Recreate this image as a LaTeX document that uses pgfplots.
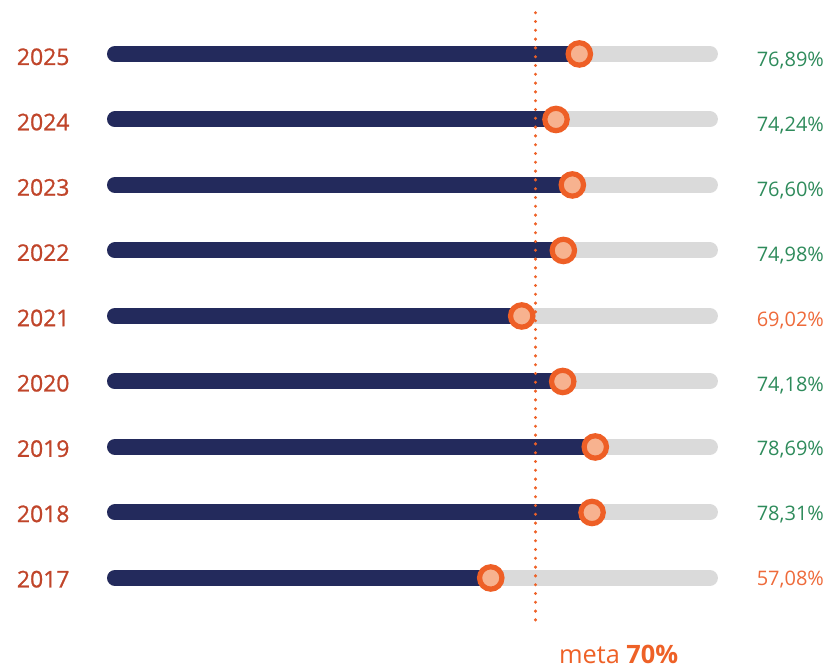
\documentclass[border=0pt]{standalone}
\usepackage{pgfplots}
\pgfplotsset{compat=1.18}
\usepackage{fontspec}
\setmainfont{Open Sans}
\newfontfamily\yearfont{Open Sans}[FakeBold=0.9]
\definecolor{yearcol}{HTML}{C0452A}
\definecolor{navy}{HTML}{232A5C}
\definecolor{bargray}{HTML}{DADADA}
\definecolor{ring}{HTML}{EE5F26}
\definecolor{peach}{HTML}{F7B28F}
\definecolor{grn}{HTML}{2E8B5B}
\definecolor{orgtxt}{HTML}{EE6A3A}
\definecolor{meta}{HTML}{EE6127}
\begin{document}
\begin{tikzpicture}
\path[use as bounding box] (0,0) rectangle (619.5pt,501pt);
\begin{axis}[
  at={(80.25pt,30.675pt)}, anchor=south west,
  scale only axis, width=459.1pt, height=466.7pt,
  xmin=0, xmax=100, ymin=2016.25, ymax=2025.75,
  axis lines=none, ticks=none, clip=false,
  unbounded coords=jump,
]
% gray background bars
\addplot[bargray, line width=12pt, line cap=round] coordinates {
(1.31,2025) (98.5,2025) (nan,nan)
(1.31,2024) (98.5,2024) (nan,nan)
(1.31,2023) (98.5,2023) (nan,nan)
(1.31,2022) (98.5,2022) (nan,nan)
(1.31,2021) (98.5,2021) (nan,nan)
(1.31,2020) (98.5,2020) (nan,nan)
(1.31,2019) (98.5,2019) (nan,nan)
(1.31,2018) (98.5,2018) (nan,nan)
(1.31,2017) (98.5,2017)
};
% navy progress bars
\addplot[navy, line width=12pt, line cap=round] coordinates {
(1.31,2025) (77.16,2025) (nan,nan)
(1.31,2024) (73.35,2024) (nan,nan)
(1.31,2023) (76.02,2023) (nan,nan)
(1.31,2022) (74.55,2022) (nan,nan)
(1.31,2021) (67.75,2021) (nan,nan)
(1.31,2020) (74.45,2020) (nan,nan)
(1.31,2019) (79.77,2019) (nan,nan)
(1.31,2018) (79.24,2018) (nan,nan)
(1.31,2017) (62.69,2017)
};
% meta line
\addplot[meta, line width=2.5pt, line cap=round, dash pattern=on 0pt off 6.6pt]
  coordinates {(70,2025.63) (70,2016.33)};
% markers
\addplot[only marks, mark=*, mark size=8.4pt,
  mark options={draw=ring, fill=peach, line width=3.9pt}] coordinates {
(77.16,2025) (73.35,2024) (76.02,2023) (74.55,2022) (67.75,2021)
(74.45,2020) (79.77,2019) (79.24,2018) (62.69,2017)
};
\end{axis}
% year labels
\begin{scope}[every node/.style={inner sep=0pt, anchor=base, text=yearcol, font=\yearfont\fontsize{17.2pt}{20pt}\selectfont}]
\node at (32.4pt,452.25pt) {2025};
\node at (32.4pt,403.28pt) {2024};
\node at (32.4pt,354.30pt) {2023};
\node at (32.4pt,305.33pt) {2022};
\node at (32.4pt,256.35pt) {2021};
\node at (32.4pt,207.38pt) {2020};
\node at (32.4pt,158.40pt) {2019};
\node at (32.4pt,109.43pt) {2018};
\node at (32.4pt,60.45pt) {2017};
\end{scope}
% percent labels
\begin{scope}[every node/.style={inner sep=0pt, anchor=base west, font=\fontsize{15pt}{18pt}\selectfont}]
\node[text=grn] at (567.4pt,451.1pt) {76,89\%};
\node[text=grn] at (567.4pt,402.4pt) {74,24\%};
\node[text=grn] at (567.4pt,353.8pt) {76,60\%};
\node[text=grn] at (567.4pt,305.1pt) {74,98\%};
\node[text=orgtxt] at (567.4pt,256.4pt) {69,02\%};
\node[text=grn] at (567.4pt,207.7pt) {74,18\%};
\node[text=grn] at (567.4pt,159.1pt) {78,69\%};
\node[text=grn] at (567.4pt,110.4pt) {78,31\%};
\node[text=orgtxt] at (567.4pt,61.7pt) {57,08\%};
\end{scope}
\node[inner sep=0pt, anchor=base, text=meta, font=\fontsize{19pt}{22pt}\selectfont] at (464pt,3.5pt) {meta \textbf{70\%}};
\end{tikzpicture}
\end{document}
